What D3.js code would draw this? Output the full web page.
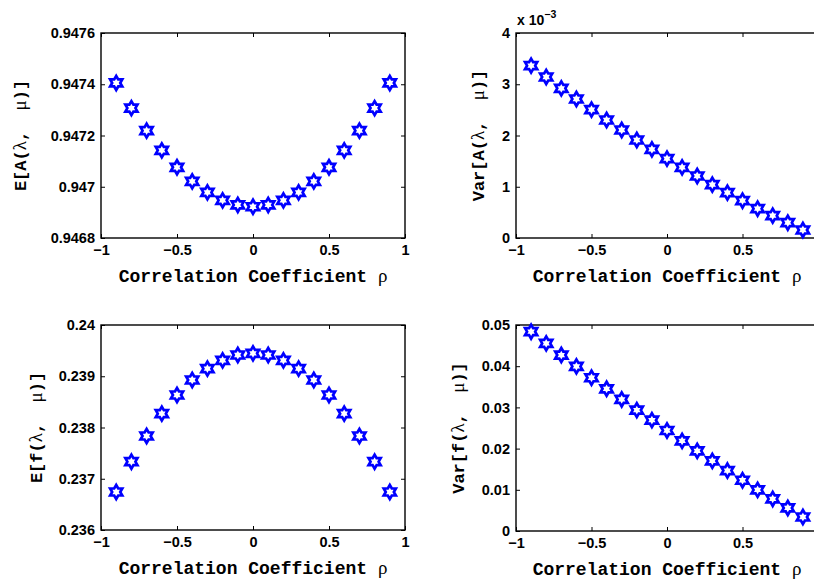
<!DOCTYPE html>
<html><head><meta charset="utf-8">
<script src="https://cdn.jsdelivr.net/npm/d3@7"></script>
<style>body{margin:0;background:#fff}</style></head>
<body><svg id="c" width="814" height="580"></svg>
<script>
const rho = [-0.9,-0.8,-0.7,-0.6,-0.5,-0.4,-0.3,-0.2,-0.1,0,0.1,0.2,0.3,0.4,0.5,0.6,0.7,0.8,0.9];
const meanA = [0.947405,0.947307,0.947219,0.947142,0.947076,0.947021,0.946978,0.946947,0.946929,0.946922,0.946929,0.946947,0.946978,0.947021,0.947076,0.947142,0.947219,0.947307,0.947405];
const varA = [3.363,3.141,2.920,2.712,2.504,2.302,2.107,1.912,1.730,1.548,1.379,1.210,1.041,0.885,0.728,0.572,0.436,0.299,0.156]; // x 10^-3
const meanF = [0.236741,0.237333,0.237834,0.23827,0.238634,0.238927,0.239148,0.23931,0.239415,0.239447,0.239415,0.23931,0.239148,0.238927,0.238634,0.23827,0.237834,0.237333,0.236741];
const varF = [0.04838,0.04554,0.04271,0.03995,0.0372,0.03452,0.03193,0.02934,0.0269,0.02439,0.02188,0.01945,0.01702,0.01467,0.01232,0.00997,0.00778,0.00559,0.0034];

const xTicks = [-1,-0.5,0,0.5,1];
const xTickLabels = ["\u22121","\u22120.5","0","0.5","1"];
const xTickLabelsClipped = ["\u22121","\u22120.5","0","0.5",""];
const yTicksMeanA = [0.9468,0.947,0.9472,0.9474,0.9476];
const yLabelsMeanA = ["0.9468","0.947","0.9472","0.9474","0.9476"];
const yTicksVarA = [0,1,2,3,4];
const yLabelsVarA = ["0","1","2","3","4"];
const yTicksMeanF = [0.236,0.237,0.238,0.239,0.24];
const yLabelsMeanF = ["0.236","0.237","0.238","0.239","0.24"];
const yTicksVarF = [0,0.01,0.02,0.03,0.04,0.05];
const yLabelsVarF = ["0","0.01","0.02","0.03","0.04","0.05"];

const svg = d3.select("#c");
const blue = "#0000ff";
const tickFont = "'Liberation Sans', Arial, sans-serif";
const monoFont = "'Liberation Mono', 'Courier New', monospace";
const symFont = "'Liberation Serif', 'DejaVu Serif', serif";

function hexagram(R){
  const r = R/Math.sqrt(3);
  const pts = [];
  for(let i=0;i<12;i++){
    const a = -Math.PI/2 + i*Math.PI/6;
    const rr = i%2===0 ? R : r;
    pts.push([rr*Math.cos(a), rr*Math.sin(a)]);
  }
  return "M"+pts.map(p=>p[0].toFixed(2)+","+p[1].toFixed(2)).join("L")+"Z";
}
const starPath = hexagram(7.0);

function panel(cfg){
  const g = svg.append("g");
  const x = d3.scaleLinear().domain([-1,1]).range([cfg.x0,cfg.x1]);
  const y = d3.scaleLinear().domain(cfg.ydom).range([cfg.y1,cfg.y0]);
  const tl = 4;
  const xl = cfg.xlabels;
  const xb = d3.axisBottom(x).tickValues(xTicks).tickFormat((d,i)=>xl[i]).tickSizeInner(-tl).tickSizeOuter(0).tickPadding(7);
  const gx = g.append("g").attr("transform",`translate(0,${cfg.y1})`).call(xb);
  const xt = d3.axisTop(x).tickValues(xTicks).tickFormat("").tickSizeInner(-tl).tickSizeOuter(0);
  const gxt = g.append("g").attr("transform",`translate(0,${cfg.y0})`).call(xt);
  const yl = d3.axisLeft(y).tickValues(cfg.yticks).tickFormat((d,i)=>cfg.ylabels[i]).tickSizeInner(-tl).tickSizeOuter(0).tickPadding(6);
  const gy = g.append("g").attr("transform",`translate(${cfg.x0},0)`).call(yl);
  const yr = d3.axisRight(y).tickValues(cfg.yticks).tickFormat("").tickSizeInner(-tl).tickSizeOuter(0);
  const gyr = g.append("g").attr("transform",`translate(${cfg.x1},0)`).call(yr);
  [gx,gxt,gy,gyr].forEach(a=>{
    a.select(".domain").remove();
    a.selectAll(".tick line").attr("stroke","#000").attr("stroke-width",1);
    a.selectAll(".tick text").attr("font-family",tickFont).attr("font-weight","bold").attr("font-size","14.5px").attr("fill","#000");
  });
  gx.selectAll(".tick text").attr("dy","0.72em");
  g.append("rect").attr("x",cfg.x0).attr("y",cfg.y0).attr("width",cfg.x1-cfg.x0).attr("height",cfg.y1-cfg.y0)
    .attr("fill","none").attr("stroke","#000").attr("stroke-width",1.4);
  g.append("g").selectAll("path").data(cfg.vals).join("path")
    .attr("d",starPath)
    .attr("transform",(d,i)=>`translate(${x(rho[i])},${y(d)})`)
    .attr("fill","none").attr("stroke",blue).attr("stroke-width",2.7).attr("stroke-linejoin","miter");
  const xlab = g.append("text").attr("x",(cfg.x0+cfg.x1)/2).attr("y",cfg.y1+44)
    .attr("text-anchor","middle").attr("font-family",monoFont).attr("font-weight","bold").attr("font-size","18px").attr("fill","#000");
  xlab.append("tspan").text("Correlation Coefficient ");
  xlab.append("tspan").attr("font-family",symFont).attr("font-weight","normal").attr("font-size","19px").text("\u03c1");
  const ylab = g.append("text").attr("transform",`translate(${cfg.ylx},${(cfg.y0+cfg.y1)/2}) rotate(-90)`)
    .attr("text-anchor","middle").attr("dy","0.35em").attr("font-family",monoFont).attr("font-weight","bold").attr("font-size","17px").attr("fill","#000");
  ylab.append("tspan").text(cfg.ypre+"(");
  ylab.append("tspan").attr("font-family",symFont).attr("font-weight","normal").attr("font-size","19px").text("\u03bb");
  ylab.append("tspan").text(",\u00a0\u00a0");
  ylab.append("tspan").attr("font-family",symFont).attr("font-weight","normal").attr("font-size","19px").text("\u03bc");
  ylab.append("tspan").text(")]");
  return g;
}

panel({x0:101,x1:405,y0:33,y1:238,ydom:[0.9468,0.9476],yticks:yTicksMeanA,ylabels:yLabelsMeanA,xlabels:xTickLabels,vals:meanA,ylx:20,ypre:"E[A"});
panel({x0:516,x1:818,y0:33,y1:238,ydom:[0,4],yticks:yTicksVarA,ylabels:yLabelsVarA,xlabels:xTickLabelsClipped,vals:varA,ylx:478,ypre:"Var[A"});
panel({x0:101,x1:405,y0:325,y1:530,ydom:[0.236,0.24],yticks:yTicksMeanF,ylabels:yLabelsMeanF,xlabels:xTickLabels,vals:meanF,ylx:36,ypre:"E[f"});
panel({x0:516,x1:818,y0:325,y1:531,ydom:[0,0.05],yticks:yTicksVarF,ylabels:yLabelsVarF,xlabels:xTickLabelsClipped,vals:varF,ylx:458,ypre:"Var[f"});

const ex = svg.append("text").attr("x",517).attr("y",25).attr("font-family",tickFont).attr("font-weight","bold").attr("font-size","14px").attr("fill","#000");
ex.append("tspan").text("x 10");
ex.append("tspan").attr("font-size","10.5px").attr("dy","-7").text("\u22123");
</script>
</body></html>
